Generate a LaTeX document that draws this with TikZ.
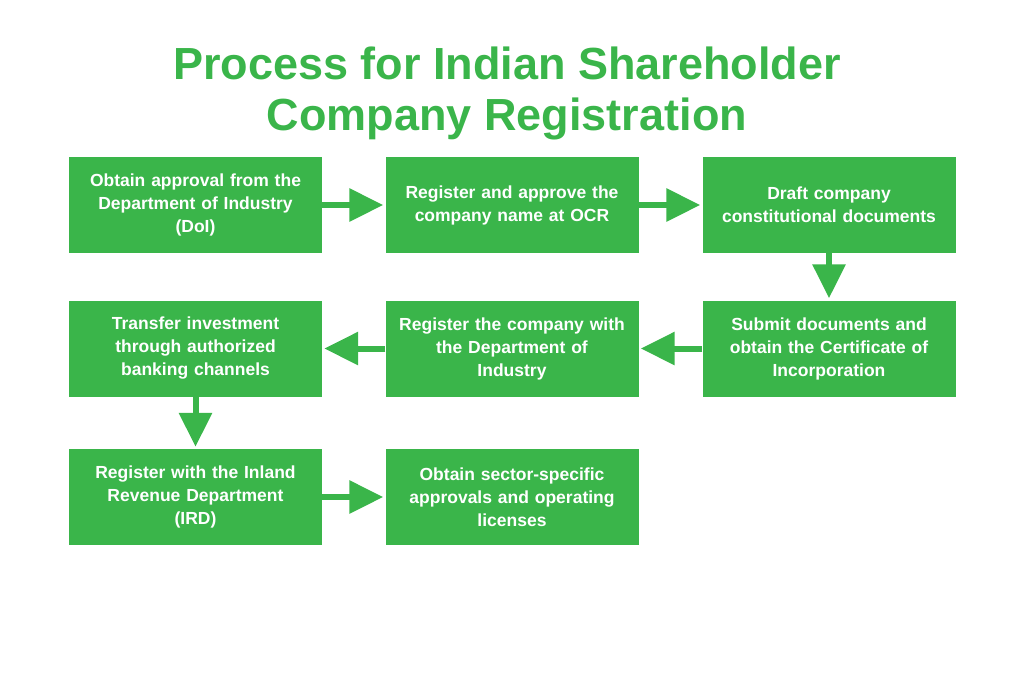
\documentclass[tikz,border=0pt]{standalone}
\usepackage{fontspec}
\setmainfont{Liberation Sans}
\usetikzlibrary{arrows.meta}
\definecolor{gr}{HTML}{3AB54A}
\begin{document}
\begin{tikzpicture}[x=1pt,y=-1pt,
  box/.style={fill=gr,text=white,font=\bfseries\fontsize{17.5}{23}\selectfont,align=center,minimum width=253pt,minimum height=96pt,text width=250pt,inner sep=0pt},
  arr/.style={draw=gr,line width=6pt,-{Triangle[length=34pt,width=32pt]},shorten >=2pt}]
\useasboundingbox (0,0) rectangle (1024,683);
\node[text=gr,font=\bfseries\fontsize{45}{51}\selectfont,align=center] (t) at (507,93) {Process for Indian Shareholder\\Company Registration};
\node[box] (a) at (195.5,205) {Obtain approval from the\\Department of Industry\\(DoI)};
\node[box] (b) at (512,205) {Register and approve the\\company name at OCR};
\node[box] (c) at (829,205) {Draft company\\constitutional documents};
\node[box] (d) at (829,348.5) {Submit documents and\\obtain the Certificate of\\Incorporation};
\node[box] (e) at (512,348.5) {Register the company with\\the Department of\\Industry};
\node[box] (f) at (195.5,348.5) {Transfer investment\\through authorized\\banking channels};
\node[box] (g) at (195.5,497) {Register with the Inland\\Revenue Department\\(IRD)};
\node[box] (h) at (512,497) {Obtain sector-specific\\approvals and operating\\licenses};
\draw[arr] (a) -- (b);
\draw[arr] (b) -- (c);
\draw[arr] (c) -- (d);
\draw[arr] (d) -- (e);
\draw[arr] (e) -- (f);
\draw[arr] (f) -- (g);
\draw[arr] (g) -- (h);
\end{tikzpicture}
\end{document}
